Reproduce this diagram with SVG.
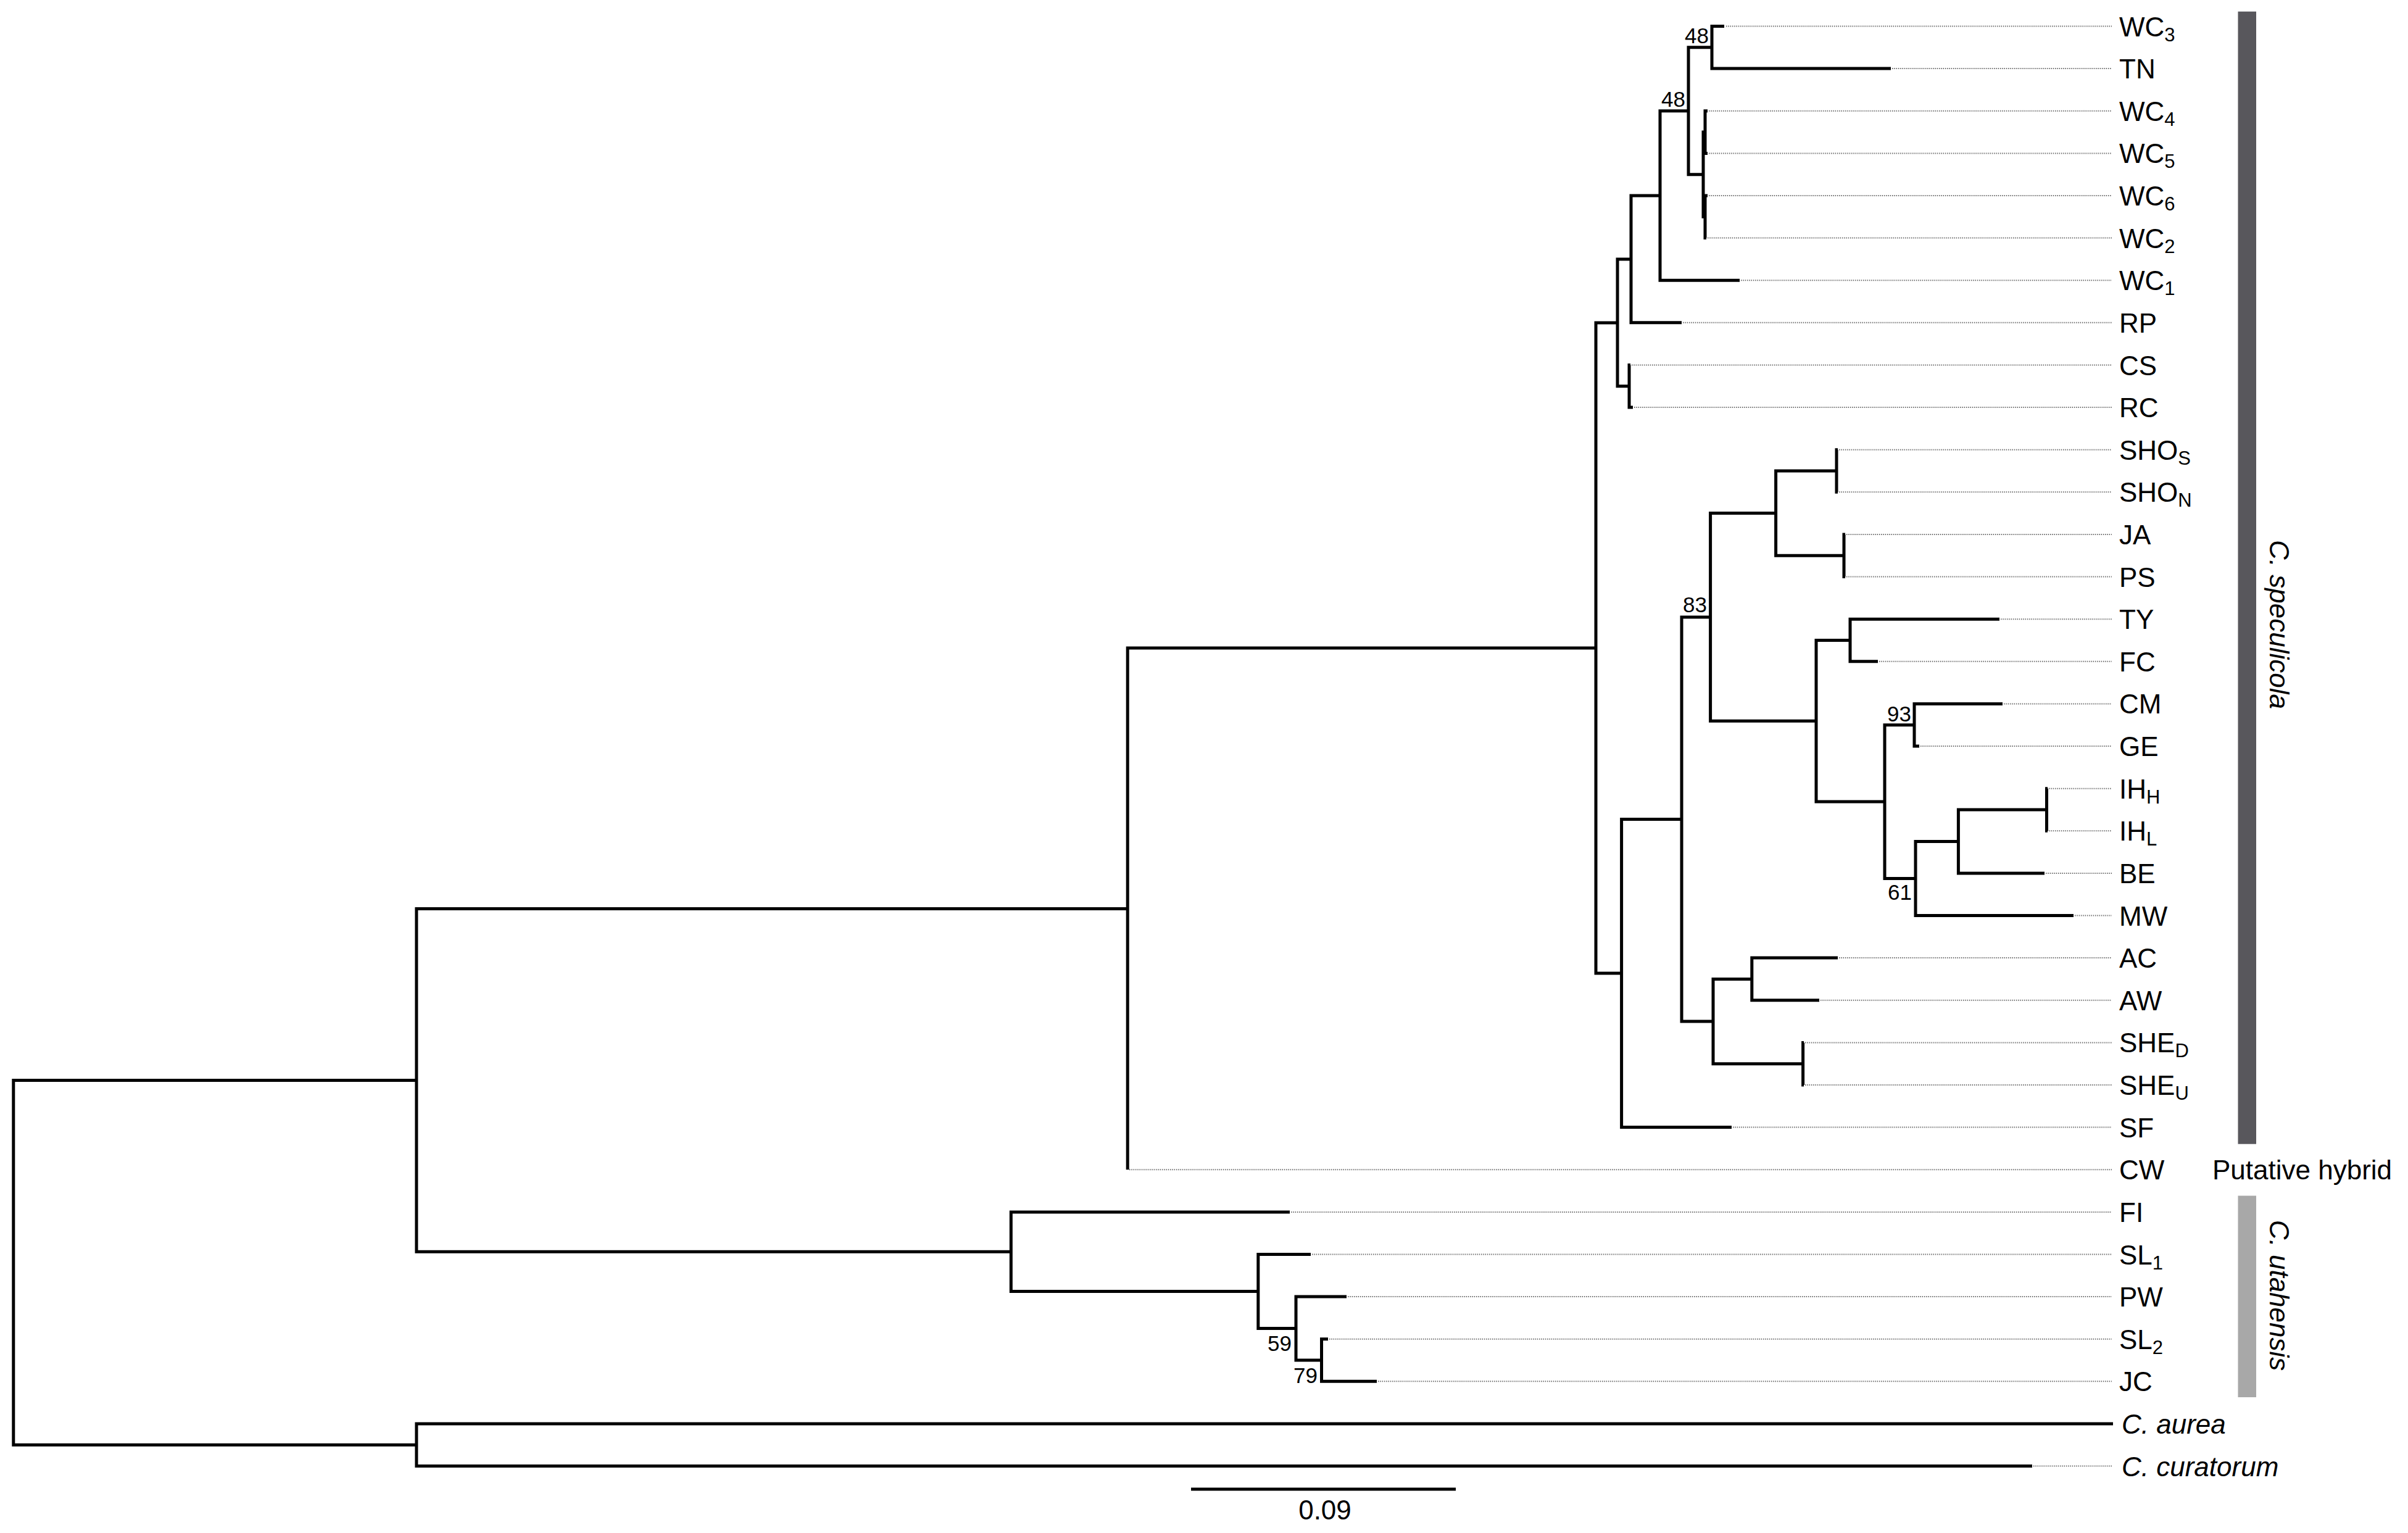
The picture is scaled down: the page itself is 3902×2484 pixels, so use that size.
<svg xmlns="http://www.w3.org/2000/svg" width="3902" height="2484" viewBox="0 0 3902 2484">
<style>
.br{fill:none;stroke:#000;stroke-width:5;stroke-linejoin:miter;stroke-linecap:butt}
.ld{fill:none;stroke:#6a6a6a;stroke-width:2;stroke-dasharray:1.5 1.8}
.lb{font-family:"Liberation Sans",Arial,Helvetica,sans-serif;font-size:44px;fill:#000}
.it{font-style:italic}
.bs{font-family:"Liberation Sans",Arial,Helvetica,sans-serif;font-size:35px;fill:#000;text-anchor:end}
.sub{font-size:31px}
</style>
<rect width="3902" height="2484" fill="#fff"/>
<g id="connectors">
<path class="br" d="M674.9,1750.4 H21.8 V2341.3 H674.9"/>
<path class="br" d="M1827.2,1472.6 H674.9 V2028.2 H1638.3"/>
<path class="br" d="M3424,2307 H674.9 V2375.6 H3293"/>
<path class="br" d="M2586,1050 H1827.2 V1895.2"/>
<path class="br" d="M2090,1963.9 H1638.3 V2092.5 H2038.8"/>
<path class="br" d="M2124,2032.5 H2038.8 V2152.5 H2100"/>
<path class="br" d="M2182,2101.1 H2100 V2204 H2141.5"/>
<path class="br" d="M2152,2169.7 H2141.5 V2238.3 H2231"/>
<path class="br" d="M2621,522.9 H2586 V1577 H2627.6"/>
<path class="br" d="M2643,419.9 H2621 V625.8 H2640"/>
<path class="br" d="M2642,591.5 H2640 V660.1 H2646"/>
<path class="br" d="M2690,317 H2643 V522.8 H2725"/>
<path class="br" d="M2736,179.7 H2690 V454.2 H2819"/>
<path class="br" d="M2774,76.8 H2736 V282.7 H2760"/>
<path class="br" d="M2794,42.5 H2774 V111.1 H3064"/>
<path class="br" d="M2763,214 H2760 V351.3 H2763"/>
<path class="br" d="M2767,179.7 H2763 V248.4 H2767"/>
<path class="br" d="M2767,317 H2763 V385.6 H2765"/>
<path class="br" d="M2725,1327.5 H2627.6 V1826.6 H2806"/>
<path class="br" d="M2771.6,1000 H2725 V1655.1 H2776"/>
<path class="br" d="M2877.6,831.6 H2771.6 V1168.3 H2943"/>
<path class="br" d="M2976,763 H2877.6 V900.3 H2988"/>
<path class="br" d="M2978,728.7 H2976 V797.3 H2978"/>
<path class="br" d="M2990,866 H2988 V934.6 H2990"/>
<path class="br" d="M2998,1037.5 H2943 V1299.1 H3054"/>
<path class="br" d="M3240,1003.2 H2998 V1071.8 H3043"/>
<path class="br" d="M3102,1174.7 H3054 V1423.5 H3104"/>
<path class="br" d="M3245,1140.4 H3102 V1209 H3110"/>
<path class="br" d="M3173.4,1363.4 H3104 V1483.5 H3360"/>
<path class="br" d="M3316.5,1312 H3173.4 V1414.9 H3313"/>
<path class="br" d="M3318,1277.7 H3316.5 V1346.3 H3318"/>
<path class="br" d="M2838.8,1586.5 H2776 V1723.7 H2921.6"/>
<path class="br" d="M2978,1552.1 H2838.8 V1620.8 H2948"/>
<path class="br" d="M2923,1689.4 H2921.6 V1758 H2923"/>
<path class="ld" d="M2797,42.5H3422 M3066,111.1H3422 M2769,179.7H3422 M2769,248.4H3422 M2769,317H3422 M2767,385.6H3422 M2821,454.2H3422 M2727,522.8H3422 M2644,591.5H3422 M2648,660.1H3422 M2980,728.7H3422 M2980,797.3H3422 M2992,866H3422 M2992,934.6H3422 M3242,1003.2H3422 M3045,1071.8H3422 M3247,1140.4H3422 M3112,1209H3422 M3320,1277.7H3422 M3320,1346.3H3422 M3315,1414.9H3422 M3362,1483.5H3422 M2980,1552.1H3422 M2950,1620.8H3422 M2925,1689.4H3422 M2925,1758H3422 M2808,1826.6H3422 M1830,1895.2H3422 M2092,1963.9H3422 M2126,2032.5H3422 M2184,2101.1H3422 M2154,2169.7H3422 M2233,2238.3H3422 M3295,2375.6H3422"/>
</g>
<g id="support">
<text class="bs" x="2769" y="70">48</text>
<text class="bs" x="2731" y="173">48</text>
<text class="bs" x="2766" y="992">83</text>
<text class="bs" x="3097" y="1169">93</text>
<text class="bs" x="3098" y="1458">61</text>
<text class="bs" x="2093" y="2189">59</text>
<text class="bs" x="2135" y="2241">79</text>
</g>
<g id="leaves" class="lb">
<g id="leaf-WC3"><text x="3434" y="58.5">WC<tspan class="sub" dy="8">3</tspan></text></g>
<g id="leaf-TN"><text x="3434" y="127.1">TN</text></g>
<g id="leaf-WC4"><text x="3434" y="195.7">WC<tspan class="sub" dy="8">4</tspan></text></g>
<g id="leaf-WC5"><text x="3434" y="264.4">WC<tspan class="sub" dy="8">5</tspan></text></g>
<g id="leaf-WC6"><text x="3434" y="333">WC<tspan class="sub" dy="8">6</tspan></text></g>
<g id="leaf-WC2"><text x="3434" y="401.6">WC<tspan class="sub" dy="8">2</tspan></text></g>
<g id="leaf-WC1"><text x="3434" y="470.2">WC<tspan class="sub" dy="8">1</tspan></text></g>
<g id="leaf-RP"><text x="3434" y="538.8">RP</text></g>
<g id="leaf-CS"><text x="3434" y="607.5">CS</text></g>
<g id="leaf-RC"><text x="3434" y="676.1">RC</text></g>
<g id="leaf-SHOS"><text x="3434" y="744.7">SHO<tspan class="sub" dy="8">S</tspan></text></g>
<g id="leaf-SHON"><text x="3434" y="813.3">SHO<tspan class="sub" dy="8">N</tspan></text></g>
<g id="leaf-JA"><text x="3434" y="882">JA</text></g>
<g id="leaf-PS"><text x="3434" y="950.6">PS</text></g>
<g id="leaf-TY"><text x="3434" y="1019.2">TY</text></g>
<g id="leaf-FC"><text x="3434" y="1087.8">FC</text></g>
<g id="leaf-CM"><text x="3434" y="1156.4">CM</text></g>
<g id="leaf-GE"><text x="3434" y="1225">GE</text></g>
<g id="leaf-IHH"><text x="3434" y="1293.7">IH<tspan class="sub" dy="8">H</tspan></text></g>
<g id="leaf-IHL"><text x="3434" y="1362.3">IH<tspan class="sub" dy="8">L</tspan></text></g>
<g id="leaf-BE"><text x="3434" y="1430.9">BE</text></g>
<g id="leaf-MW"><text x="3434" y="1499.5">MW</text></g>
<g id="leaf-AC"><text x="3434" y="1568.1">AC</text></g>
<g id="leaf-AW"><text x="3434" y="1636.8">AW</text></g>
<g id="leaf-SHED"><text x="3434" y="1705.4">SHE<tspan class="sub" dy="8">D</tspan></text></g>
<g id="leaf-SHEU"><text x="3434" y="1774">SHE<tspan class="sub" dy="8">U</tspan></text></g>
<g id="leaf-SF"><text x="3434" y="1842.6">SF</text></g>
<g id="leaf-CW"><text x="3434" y="1911.2">CW</text></g>
<g id="leaf-FI"><text x="3434" y="1979.9">FI</text></g>
<g id="leaf-SL1"><text x="3434" y="2048.5">SL<tspan class="sub" dy="8">1</tspan></text></g>
<g id="leaf-PW"><text x="3434" y="2117.1">PW</text></g>
<g id="leaf-SL2"><text x="3434" y="2185.7">SL<tspan class="sub" dy="8">2</tspan></text></g>
<g id="leaf-JC"><text x="3434" y="2254.3">JC</text></g>
<g id="leaf-aurea"><text class="it" x="3438" y="2323">C. aurea</text></g>
<g id="leaf-curatorum"><text class="it" x="3438" y="2391.6">C. curatorum</text></g>
</g>
<g id="clade-speculicola">
<rect x="3626.5" y="18.7" width="29.5" height="1835" fill="#58575c"/>
<text class="lb it" transform="translate(3678,1012) rotate(90)" text-anchor="middle">C. speculicola</text>
</g>
<g id="clade-hybrid">
<text class="lb" x="3585" y="1911.2">Putative hybrid</text>
</g>
<g id="clade-utahensis">
<rect x="3626.5" y="1937.5" width="29.5" height="326.5" fill="#a8a8a8"/>
<text class="lb it" transform="translate(3678,2099) rotate(90)" text-anchor="middle">C. utahensis</text>
</g>
<g id="scale-bar">
<path d="M1930,2413 H2359" stroke="#000" stroke-width="5" fill="none"/>
<text class="lb" x="2147" y="2462" text-anchor="middle">0.09</text>
</g>
</svg>
